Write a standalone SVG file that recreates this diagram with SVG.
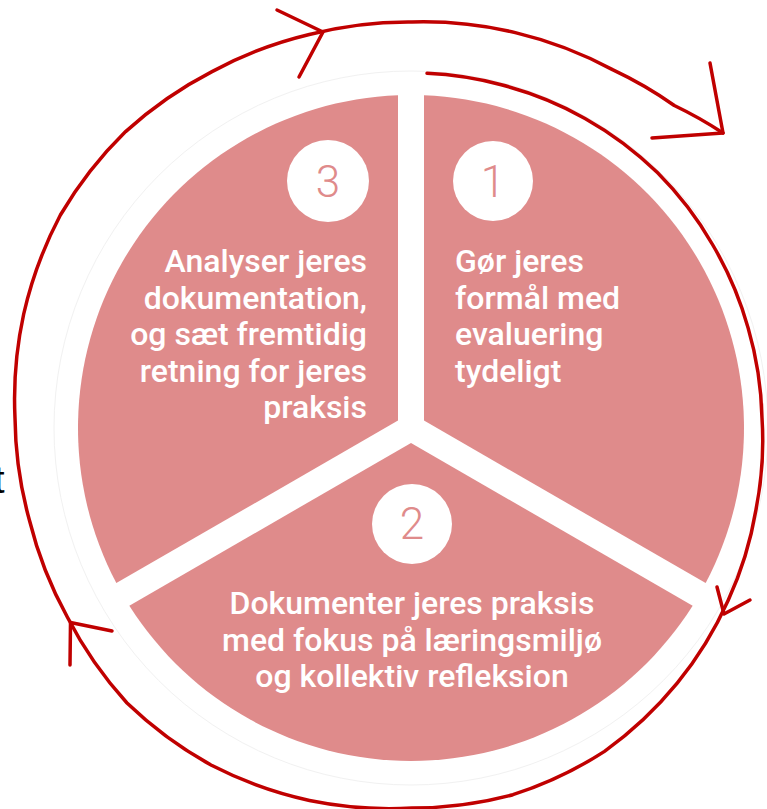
<svg xmlns="http://www.w3.org/2000/svg" width="767" height="809" viewBox="0 0 767 809">
<style>
.seg{fill:#df8b8b;stroke:none}
.badge{fill:#ffffff}
.num{font-family:Roboto,"Noto Sans",sans-serif;font-weight:300;font-size:44px;fill:#df8b8b;text-anchor:middle}
.lbl{font-family:Roboto,"Noto Sans",sans-serif;font-weight:500;font-size:32px;fill:#ffffff}
.ring{fill:none;stroke:#c00000;stroke-width:3.5;stroke-linecap:round;stroke-linejoin:round}
.faint{fill:none;stroke:#f1f1f1;stroke-width:1}
</style>
<rect width="767" height="809" fill="#ffffff"/>
<text x="-6" y="493" font-family="Liberation Sans, Arial, sans-serif" font-size="38" fill="#000000">t</text>
<circle class="faint" cx="411" cy="428" r="357"/>
<g id="node-1">
  <path class="seg" d="M424 420.5 L424 95.25 A333 333 0 0 1 705.66 583.11 Z"/>
  <circle class="badge" cx="493" cy="181" r="40"/>
  <text class="num" x="493" y="197">1</text>
  <text class="lbl" x="455"><tspan x="455" y="272">Gør jeres</tspan><tspan x="455" y="308.5">formål med</tspan><tspan x="455" y="345">evaluering</tspan><tspan x="455" y="381.5">tydeligt</tspan></text>
</g>
<g id="node-2">
  <path class="seg" d="M411 443 L692.66 605.63 A333 333 0 0 1 129.34 605.63 Z"/>
  <circle class="badge" cx="412" cy="524" r="40"/>
  <text class="num" x="412" y="539">2</text>
  <text class="lbl" text-anchor="middle"><tspan x="412" y="614">Dokumenter jeres praksis</tspan><tspan x="412" y="650.5">med fokus på læringsmiljø</tspan><tspan x="412" y="687">og kollektiv refleksion</tspan></text>
</g>
<g id="node-3">
  <path class="seg" d="M398 420.5 L398 95.25 A333 333 0 0 0 116.34 583.11 Z"/>
  <circle class="badge" cx="328" cy="181" r="41"/>
  <text class="num" x="328" y="197">3</text>
  <text class="lbl" text-anchor="end"><tspan x="367" y="272">Analyser jeres</tspan><tspan x="367" y="308.5">dokumentation,</tspan><tspan x="367" y="345">og sæt fremtidig</tspan><tspan x="367" y="381.5">retning for jeres</tspan><tspan x="367" y="418">praksis</tspan></text>
</g>
<g id="connectors">
  <path class="ring" d="M427 73.3 A345 345 0 0 1 501.3 84.8 A345 345 0 0 1 585 118.4 A347 347 0 0 1 657.4 172.6 A347 347 0 0 1 712.5 244.5 A348 348 0 0 1 748.1 327.9 A349 349 0 0 1 762 418 A353 353 0 0 1 755.9 510.1 A360 360 0 0 1 728.1 600.5 A370 370 0 0 1 677.2 683.2 A380 380 0 0 1 604.5 751.4 A388 388 0 0 1 512.9 794.7 A390 390 0 0 1 412 808 A393 393 0 0 1 309.5 800.5 A398 398 0 0 1 211.5 765.3 A402 402 0 0 1 127 703 A400 400 0 0 1 67.3 617 A397 397 0 0 1 29.5 520.5 A396 396 0 0 1 15 418 A399 399 0 0 1 23.7 314 A404 404 0 0 1 60.4 215 A405 405 0 0 1 125.6 131.6 A402 402 0 0 1 212 71.6 A398 398 0 0 1 309.3 34.5 A396 396 0 0 1 412 22 A397 397 0 0 1 515.3 32.6 A400 400 0 0 1 613 69.9 A405 405 0 0 1 674.3 105.5 A414 414 0 0 1 723 133"/>
  <path class="ring" d="M277 10 L323 32 L299 77"/>
  <path class="ring" d="M710 63 L723 133 L652 138"/>
  <path class="ring" d="M717 587 L724 614 L750 600"/>
  <path class="ring" d="M112 631 L70.5 622.5 L70 665"/>
</g>
</svg>
